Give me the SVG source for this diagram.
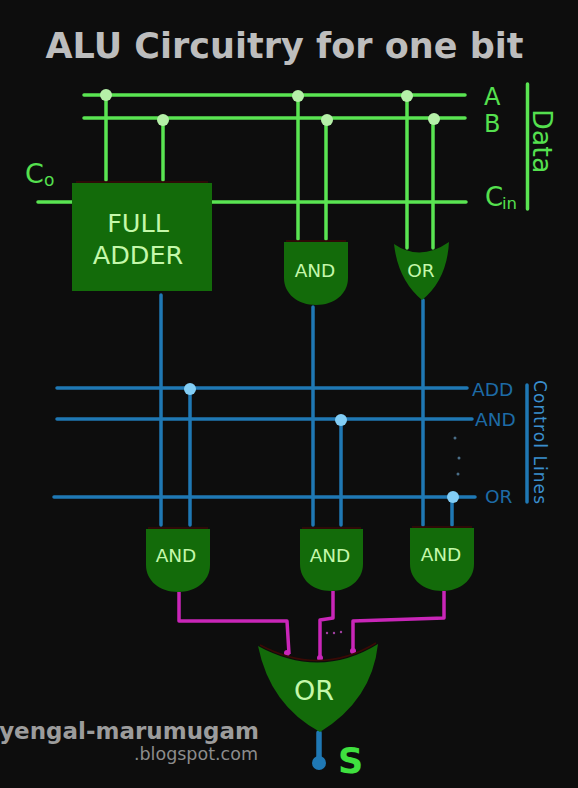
<svg xmlns="http://www.w3.org/2000/svg" width="578" height="788" viewBox="0 0 578 788">
<style>
text{font-family:"DejaVu Sans",sans-serif}
.g{fill:none;stroke:#5ae452;stroke-width:3.500;stroke-linecap:round}
.b{fill:none;stroke:#1f78b4;stroke-width:3.500;stroke-linecap:round}
.m{fill:none;stroke:#c926b8;stroke-width:3.500;stroke-linejoin:round}
.gd{fill:#b5f0a8}.bd{fill:#82cdf5}
.gate{fill:#136b0a}
.edge{fill:none;stroke:#3a0a06;stroke-width:1.500}
.lab{fill:#c4f8aa;text-anchor:middle}
.gl{fill:#55e04f}.bl{fill:#1d6ba6}.bl2{fill:#3a8fce}
</style>
<rect width="578" height="788" fill="#0d0d0d"/>
<text x="284.500" y="58" font-size="35" font-weight="bold" fill="#bdbdbd" text-anchor="middle" textLength="478" lengthAdjust="spacing">ALU Circuitry for one bit</text>
<g id="connectors">
<path class="g" d="M84 95H465M84 118H465M38 202H73M212 202H466M106 95V180M163 120V180M298 96V239M326 120V239M407 96V248M433 120V248M527.500 84V209"/>
<path class="b" d="M57 388H467M57 419H472M54 497H475M161 295V525M190 388V525M313 307V525M341 420V525M423 300V525M452 497V525M527 385V502"/>
<path class="b" d="M319 733V763" style="stroke-width:5.500"/>
<path class="m" d="M179 592V621H287L289 654M333 591V618L320 620V658M444 591V618L353 621V651"/>
<circle class="gd" cx="106" cy="95" r="6"/><circle class="gd" cx="163" cy="120" r="6"/><circle class="gd" cx="298" cy="96" r="6"/><circle class="gd" cx="327" cy="120" r="6"/><circle class="gd" cx="407" cy="96" r="6"/><circle class="gd" cx="434" cy="119" r="6"/>
<circle class="bd" cx="190" cy="389" r="6"/><circle class="bd" cx="341" cy="420" r="6"/><circle class="bd" cx="453" cy="497" r="6"/>
<circle cx="319" cy="763" r="7" fill="#1f78b4"/>
<g fill="#c926b8"><circle cx="287" cy="653" r="3"/><circle cx="320" cy="658" r="3"/><circle cx="353" cy="651" r="3"/></g>
</g>
<g id="full-adder"><rect class="gate" x="72" y="183" width="140" height="108"/><path class="edge" d="M76 182H208"/><text class="lab" x="138" y="232" font-size="25.500">FULL</text><text class="lab" x="138" y="264" font-size="25.500">ADDER</text></g>
<g id="and-1"><path class="gate" d="M284 242H348V278C348 294 334 305 316 305S284 294 284 278Z"/><path class="edge" d="M286 241H346"/><text class="lab" x="315" y="277" font-size="18.500">AND</text></g>
<g id="or-1"><path class="gate" d="M394 244Q420 262 449 242Q447 280 422 300Q398 280 394 244Z"/><text class="lab" x="421" y="277" font-size="18.500">OR</text></g>
<g id="and-2"><path class="gate" d="M146 529H210V565C210 581 196 592 178 592S146 581 146 565Z"/><path class="edge" d="M148 528H208"/><text class="lab" x="176" y="562" font-size="18.500">AND</text></g>
<g id="and-3"><path class="gate" d="M300 529H363V564C363 580 349 591 331 591S300 580 300 564Z"/><path class="edge" d="M302 528H361"/><text class="lab" x="330" y="562" font-size="18.500">AND</text></g>
<g id="and-4"><path class="gate" d="M410 528H474V564C474 580 460 591 442 591S410 580 410 564Z"/><path class="edge" d="M412 527H472"/><text class="lab" x="441" y="561" font-size="18.500">AND</text></g>
<g id="or-2"><path class="gate" d="M258 646Q320 680 378 644Q372 700 320 732Q270 705 258 646Z"/><path class="edge" d="M260 645Q320 677 376 643"/><text class="lab" x="314" y="700" font-size="27">OR</text></g>
<g id="labels">
<text class="gl" x="25" y="183" font-size="27">C</text><text class="gl" x="44" y="186" font-size="17">o</text>
<text class="gl" x="484" y="105" font-size="24">A</text><text class="gl" x="484" y="132" font-size="24">B</text>
<text class="gl" x="485" y="206" font-size="26">C</text><text class="gl" x="502" y="209" font-size="16.500">in</text>
<text class="gl" transform="translate(533 109) rotate(90)" font-size="27">Data</text>
<text class="bl" x="472" y="396" font-size="18.500">ADD</text><text class="bl" x="475" y="426" font-size="18.500">AND</text><text class="bl" x="485" y="503" font-size="18.500">OR</text>
<text class="bl2" transform="translate(534 380) rotate(90)" font-size="17" textLength="124">Control Lines</text>
<g fill="#4a6e88"><circle cx="455" cy="438" r="1.500"/><circle cx="459" cy="458" r="1.500"/><circle cx="458" cy="474" r="1.500"/></g>
<g fill="#a040a0"><circle cx="327" cy="633" r="1.200"/><circle cx="334" cy="633" r="1.200"/><circle cx="341" cy="632" r="1.200"/></g>
<text x="259" y="739" font-size="23" font-weight="bold" fill="#9c9c9c" text-anchor="end">yengal-marumugam</text>
<text x="258" y="760" font-size="17.500" fill="#8c8c8c" text-anchor="end">.blogspot.com</text>
<text x="338" y="773" font-size="35" font-weight="bold" fill="#3fe03f">S</text>
</g>
</svg>
